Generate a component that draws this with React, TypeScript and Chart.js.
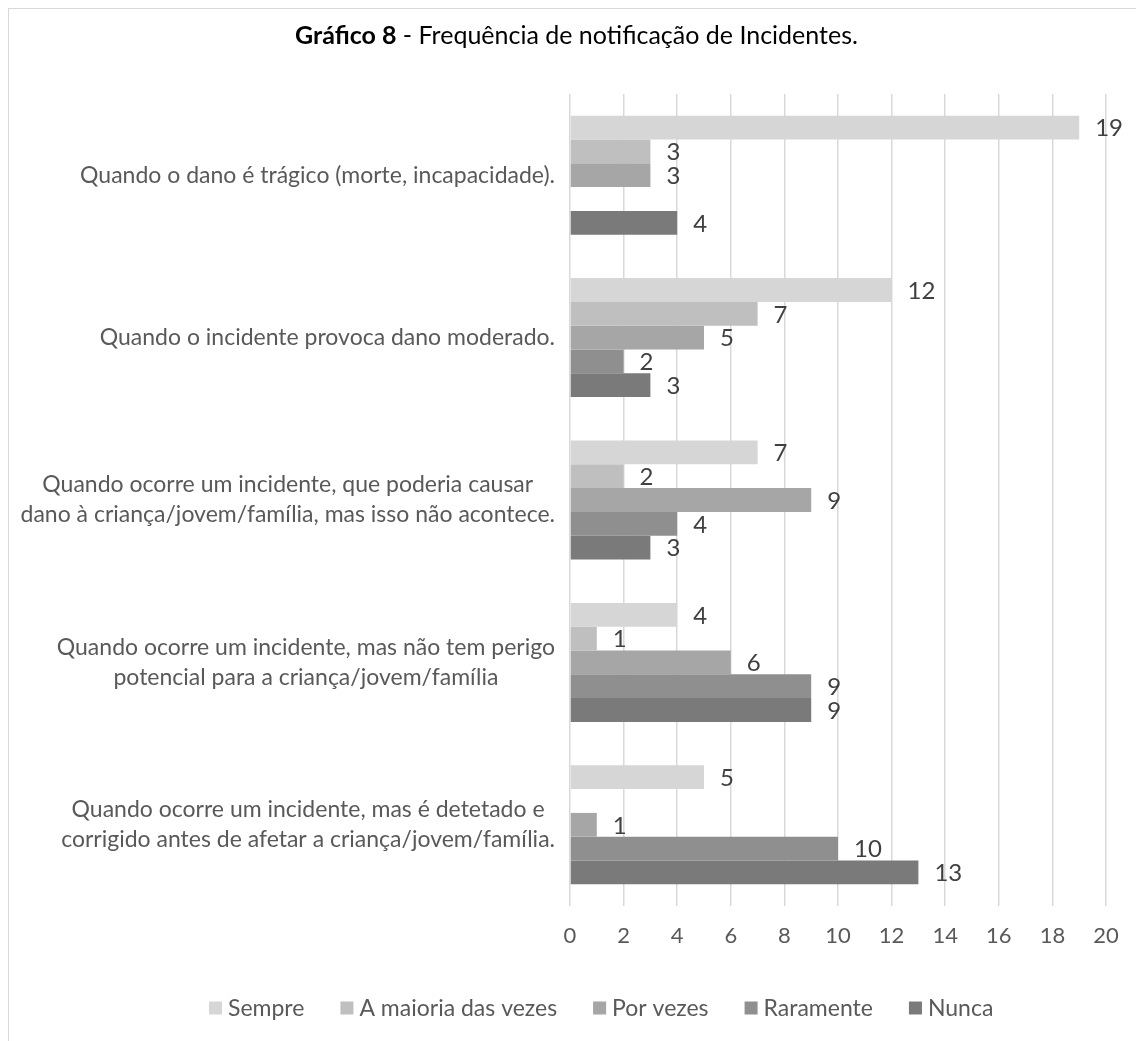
import { useEffect, useRef } from "react";
import { Chart, registerables } from "chart.js";

Chart.register(...registerables);

// Question categories (one line per array entry)
const categories: string[][] = [
  ["Quando o dano é trágico (morte, incapacidade)."],
  ["Quando o incidente provoca dano moderado."],
  ["Quando ocorre um incidente, que poderia causar", "dano à criança/jovem/família, mas isso não acontece."],
  ["Quando ocorre um incidente, mas não tem perigo", "potencial para a criança/jovem/família"],
  ["Quando ocorre um incidente, mas é detetado e", "corrigido antes de afetar a criança/jovem/família."],
];

const seriesNames = ["Sempre", "A maioria das vezes", "Por vezes", "Raramente", "Nunca"];

// Number of answers per category
const sempre = [19, 12, 7, 4, 5];
const maioriaDasVezes = [3, 7, 2, 1, null];
const porVezes = [3, 5, 9, 6, 1];
const raramente = [null, 2, 4, 9, 10];
const nunca = [4, 3, 3, 9, 13];

const seriesColors = ["#d6d6d6", "#bfbfbf", "#a6a6a6", "#8f8f8f", "#7a7a7a"];

const xMin = 0;
const xMax = 20;
const xStep = 2;

const titleBold = "Gráfico 8";
const titleRest = " - Frequência de notificação de Incidentes.";

const FONT = "Lato, 'Open Sans', sans-serif";
const TEXT = "#595959";

const CANVAS_W = 1135;
const CANVAS_H = 1032;

const categoryLabelsPlugin = {
  id: "categoryLabels",
  afterDraw(chart: any) {
    const { ctx, chartArea, scales } = chart;
    const y = scales.y;
    ctx.save();
    ctx.font = `23px ${FONT}`;
    ctx.fillStyle = TEXT;
    ctx.textAlign = "center";
    ctx.textBaseline = "middle";
    const lineH = 30;
    const right = chartArea.left - 15;
    categories.forEach((lines, i) => {
      const cy = y.getPixelForValue(i);
      const w = Math.max(...lines.map((l) => ctx.measureText(l).width));
      const cx = right - w / 2;
      const top = cy - ((lines.length - 1) * lineH) / 2;
      lines.forEach((l, k) => ctx.fillText(l, cx, top + k * lineH));
    });
    ctx.restore();
  },
};

const valueLabelsPlugin = {
  id: "valueLabels",
  afterDatasetsDraw(chart: any) {
    const { ctx } = chart;
    ctx.save();
    ctx.font = `24px ${FONT}`;
    ctx.fillStyle = "#404040";
    ctx.textAlign = "left";
    ctx.textBaseline = "middle";
    chart.data.datasets.forEach((ds: any, di: number) => {
      const meta = chart.getDatasetMeta(di);
      meta.data.forEach((el: any, i: number) => {
        const v = ds.data[i];
        if (v === null || v === undefined) return;
        ctx.fillText(String(v), el.x + 16, el.y + 1);
      });
    });
    ctx.restore();
  },
};

const titlePlugin = {
  id: "mixedTitle",
  afterDraw(chart: any) {
    const { ctx, width } = chart;
    ctx.save();
    ctx.textBaseline = "middle";
    ctx.textAlign = "left";
    ctx.fillStyle = "#000000";
    ctx.font = `bold 25px ${FONT}`;
    const wb = ctx.measureText(titleBold).width;
    ctx.font = `25px ${FONT}`;
    const wr = ctx.measureText(titleRest).width;
    const cy = 27;
    const x0 = width / 2 - (wb + wr) / 2;
    ctx.font = `bold 25px ${FONT}`;
    ctx.fillText(titleBold, x0, cy);
    ctx.font = `25px ${FONT}`;
    ctx.fillText(titleRest, x0 + wb, cy);
    ctx.restore();
  },
};

const legendPlugin = {
  id: "bottomLegend",
  afterDraw(chart: any) {
    const { ctx } = chart;
    const box = 13;
    const boxGap = 6;
    const itemGap = 36;
    const cy = 999;
    ctx.save();
    ctx.font = `23px ${FONT}`;
    ctx.textBaseline = "middle";
    ctx.textAlign = "left";
    let x = 200;
    chart.data.datasets.forEach((ds: any) => {
      const w = ctx.measureText(ds.label).width;
      ctx.fillStyle = ds.backgroundColor;
      ctx.fillRect(x, cy - box / 2, box, box);
      ctx.fillStyle = TEXT;
      ctx.fillText(ds.label, x + box + boxGap, cy + 1);
      x += box + boxGap + w + itemGap;
    });
    ctx.restore();
  },
};

export default function App() {
  const ref = useRef<HTMLCanvasElement | null>(null);

  useEffect(() => {
    if (!ref.current) return;
    const all = [sempre, maioriaDasVezes, porVezes, raramente, nunca];
    const chart = new Chart(ref.current, {
      type: "bar",
      data: {
        labels: categories.map((c) => c.join(" ")),
        datasets: all.map((d, i) => ({
          label: seriesNames[i],
          data: d,
          backgroundColor: seriesColors[i],
          borderWidth: 0,
          categoryPercentage: 0.733,
          barPercentage: 1,
        })),
      },
      options: {
        indexAxis: "y",
        animation: false,
        responsive: false,
        maintainAspectRatio: false,
        layout: { padding: { left: 561, right: CANVAS_W - 1097, top: 85, bottom: 74.6 } },
        scales: {
          x: {
            min: xMin,
            max: xMax,
            ticks: { stepSize: xStep, color: TEXT, font: { family: FONT, size: 22 }, padding: 17 },
            grid: { color: "#d9d9d9", lineWidth: 1.5, drawTicks: false },
            border: { display: false },
          },
          y: {
            display: false,
            grid: { display: false },
          },
        },
        plugins: {
          legend: { display: false },
          title: { display: false },
          tooltip: { enabled: false },
        },
      },
      plugins: [categoryLabelsPlugin, valueLabelsPlugin, titlePlugin, legendPlugin],
    });
    return () => chart.destroy();
  }, []);

  return (
    <div
      style={{
        marginLeft: -1,
        marginTop: -1,
        borderTop: "2px solid #d9d9d9",
        borderLeft: "2px solid #d9d9d9",
        width: CANVAS_W,
        height: CANVAS_H,
        background: "#ffffff",
      }}
    >
      <canvas ref={ref} width={CANVAS_W} height={CANVAS_H} style={{ display: "block" }} />
    </div>
  );
}
